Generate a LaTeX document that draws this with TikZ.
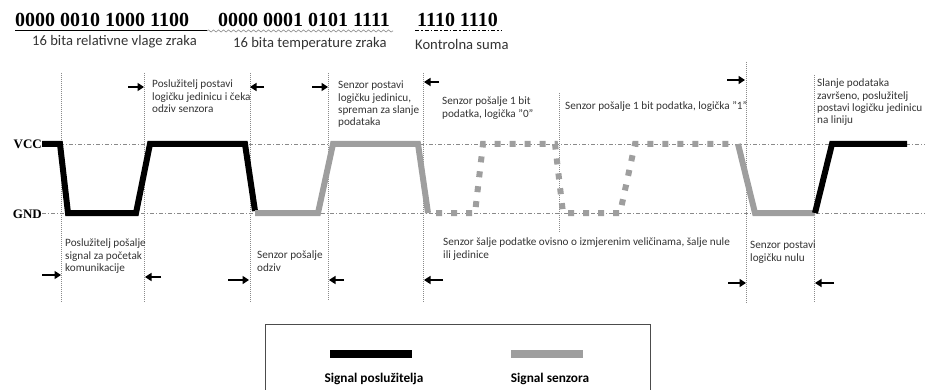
\documentclass[tikz,border=0pt]{standalone}
\usepackage{fontspec}
\setmainfont{Carlito}
\newfontfamily\tnr{Liberation Serif}
\usetikzlibrary{arrows.meta,decorations.pathmorphing}
\definecolor{sgray}{HTML}{9E9E9E}
\definecolor{lgray}{HTML}{8A8A8A}
\definecolor{txt}{HTML}{333333}
\tikzset{
  srv/.style={line width=6pt, black, line join=miter},
  sen/.style={line width=6pt, sgray, line join=miter},
  sendot/.style={line width=6pt, sgray, dash pattern=on 6pt off 9pt},
  vline/.style={lgray, line width=0.6pt, dash pattern=on 1pt off 1pt},
  hline/.style={lgray, line width=0.6pt, dash pattern=on 4pt off 2pt on 1pt off 2pt},
  arr/.style={line width=2pt, -{Triangle[length=6.5pt,width=8pt]}},
  desc/.style={anchor=north west, inner sep=0pt, align=left, text=txt,
    font=\fontsize{11.2}{12.3}\selectfont},
  head/.style={anchor=base west, inner sep=0pt, font=\tnr\bfseries\fontsize{20}{24}\selectfont},
  sub/.style={anchor=base west, inner sep=0pt, text=txt, font=\fontsize{14.6}{17}\selectfont},
  lvl/.style={anchor=base east, inner sep=0pt, font=\tnr\bfseries\fontsize{13}{15}\selectfont},
  leg/.style={anchor=base, inner sep=0pt, font=\bfseries\fontsize{13.3}{15}\selectfont},
}
\begin{document}
\begin{tikzpicture}[x=1pt,y=-1pt]
\useasboundingbox (0,0) rectangle (925,390);

% header
\node[head] (h1) at (15,27) {0000 0010 1000 1100};
\node[head] (h2) at (218,27) {0000 0001 0101 1111};
\node[head] (h3) at (417,27) {1110 1110};
\coordinate (u1a) at (15,30.5); \coordinate (u1b) at (207,30.5);
\coordinate (u2a) at (207,31); \coordinate (u2b) at (393,31);
\coordinate (u3a) at (415,30.5); \coordinate (u3b) at (502,30.5);
\draw[line width=1.2pt] (u1a) -- (u1b);
\draw[lgray, line width=0.6pt, decorate, decoration={snake, amplitude=1.1pt, segment length=5pt}] (u2a) -- (u2b);
\draw[line width=1.3pt, dash pattern=on 4pt off 2pt on 1.5pt off 2pt] (u3a) -- (u3b);
\node[sub] (s1) at (32,46) {16 bita relativne vlage zraka};
\node[sub] (s2) at (233,47.5) {16 bita temperature zraka};
\node[sub] (s3) at (415,50) {Kontrolna suma};

% level lines
\node[lvl] (vcc) at (42,148.5) {VCC};
\node[lvl] (gnd) at (42,218) {GND};
\coordinate (vccE) at (925,144);
\coordinate (gndE) at (925,213);
\draw[hline] (vcc.east |- vccE) -- (vccE);
\draw[hline] (gnd.east |- gndE) -- (gndE);

% vertical dotted lines
\foreach \n/\x/\t/\b in {v1/61/73/303, v2/144/73/303, v3/250/73/303, v4/328/73/300,
  v5/423/73/303, v6/559/93/233, v7/746/62/303, v8/814/75/303} {
  \coordinate (\n t) at (\x,\t);
  \coordinate (\n b) at (\x,\b);
  \draw[vline] (\n t) -- (\n b);
}

% signals
\draw[srv] (42,144) -- (60,144) -- (68,213) -- (136,213) -- (150,144) -- (245,144) -- (255,211);
\draw[sen] (255,213) -- (318,213) -- (333,144) -- (418,144) -- (428,213);
\draw[sendot] (436,213) -- (475,213) -- (483,144) -- (555,144) -- (563,213) -- (620,213) -- (635,144) -- (733,144);
\draw[sen] (738,144) -- (755,213) -- (815,213);
\draw[srv] (815,213) -- (832,144) -- (907,144);

% arrows
\foreach \n/\a/\b/\y in {t1/128/144/87, t2/264/250/87, t3/312/328/87, t4/439/424/82, t5/727/745/80,
  b1/42/61/275, b2/161/145/277, b3/228/249/280, b4/344/329/280, b5/443/424/280,
  b6/728/746/283, b7/834/815/283} {
  \coordinate (\n s) at (\a,\y);
  \coordinate (\n e) at (\b,\y);
  \draw[arr] (\n s) -- (\n e);
}

% descriptions
\node[desc] (d1) at (152,80) {Poslužitelj postavi\\logičku jedinicu i čeka\\odziv senzora};
\node[desc] (d2) at (338,81) {Senzor postavi\\logičku jedinicu,\\spreman za slanje\\podataka};
\node[desc] (d3) at (442,97) {Senzor pošalje 1 bit\\podatka, logička "0"};
\node[desc] (d4) at (565,101) {Senzor pošalje 1 bit podatka, logička "1"};
\node[desc] (d5) at (817,79) {Slanje podataka\\završeno, poslužitelj\\postavi logičku jedinicu\\na liniju};
\node[desc] (d6) at (65,239) {Poslužitelj pošalje\\signal za početak\\komunikacije};
\node[desc] (d7) at (257,251) {Senzor pošalje\\odziv};
\node[desc] (d8) at (443,238) {Senzor šalje podatke ovisno o izmjerenim veličinama, šalje nule\\ili jedinice};
\node[desc] (d9) at (750,241) {Senzor postavi\\logičku nulu};

% legend
\coordinate (lb1) at (265,392); \coordinate (lb2) at (265,324);
\coordinate (lb3) at (650,324); \coordinate (lb4) at (650,392);
\draw[line width=0.8pt, black!70] (lb1) -- (lb2) -- (lb3) -- (lb4);
\coordinate (k1a) at (330,354); \coordinate (k1b) at (412,354);
\coordinate (k2a) at (511,354); \coordinate (k2b) at (583,354);
\draw[line width=8pt, black] (k1a) -- (k1b);
\draw[line width=8pt, sgray] (k2a) -- (k2b);
\node[leg] (l1) at (374,382) {Signal poslužitelja};
\node[leg] (l2) at (550,382) {Signal senzora};
\end{tikzpicture}
\end{document}
